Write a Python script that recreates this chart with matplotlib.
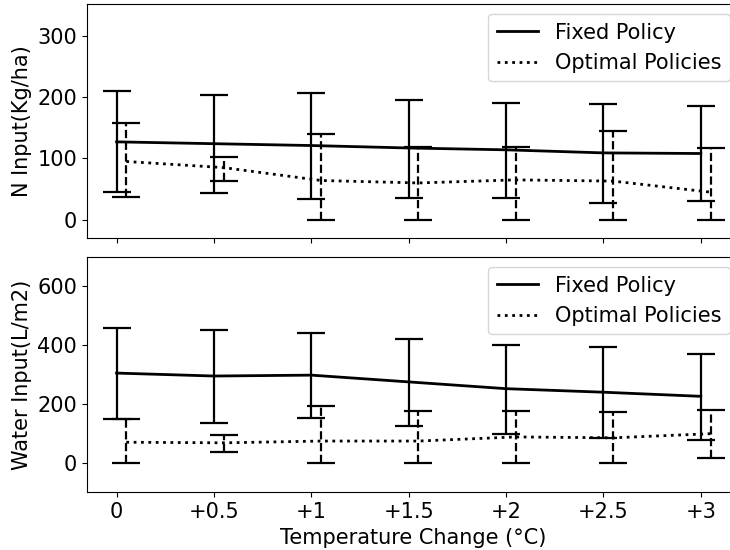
import matplotlib.pyplot as plt
import numpy as np

temp_labels = ["0", "+0.5", "+1", "+1.5", "+2", "+2.5", "+3"]

# N input (Kg/ha)
n_fixed_mean = [127, 124, 121, 117, 114, 109, 108]
n_fixed_low = [45, 44, 34, 35, 35, 28, 30]
n_fixed_high = [210, 204, 207, 196, 191, 189, 186]
n_opt_mean = [95, 85, 64, 60, 65, 63, 45]
n_opt_low = [37, 63, 0, 0, 0, 0, 0]
n_opt_high = [157, 103, 139, 118, 118, 145, 117]

# Water input (L/m2)
w_fixed_mean = [305, 295, 298, 275, 252, 240, 226]
w_fixed_low = [150, 137, 153, 125, 99, 85, 76]
w_fixed_high = [457, 451, 442, 422, 402, 393, 371]
w_opt_mean = [70, 68, 74, 74, 88, 85, 99]
w_opt_low = [0, 38, 0, 0, 0, 0, 17]
w_opt_high = [150, 96, 193, 176, 175, 172, 180]


def draw(ax, mean, low, high, x, style, bar_style):
    mean = np.array(mean)
    err = [mean - np.array(low), np.array(high) - mean]
    line, caps, bars = ax.errorbar(x, mean, yerr=err, color="black", linestyle=style,
                                   linewidth=2, elinewidth=1.6, capsize=10, capthick=1.6)
    bars[0].set_linestyle(bar_style)


plt.rcParams['font.size'] = 15
fig = plt.figure(figsize=(7.3, 5.5), dpi=100)
# the original is cropped on the right, so the axes run past the edge
ax1 = fig.add_axes([0.119, 0.567, 0.895, 0.426])
ax2 = fig.add_axes([0.119, 0.105, 0.895, 0.428], sharex=ax1)

x = np.arange(len(temp_labels))
for ax, fm, fl, fh, om, ol, oh in [
        (ax1, n_fixed_mean, n_fixed_low, n_fixed_high, n_opt_mean, n_opt_low, n_opt_high),
        (ax2, w_fixed_mean, w_fixed_low, w_fixed_high, w_opt_mean, w_opt_low, w_opt_high)]:
    draw(ax, fm, fl, fh, x, "-", "-")
    draw(ax, om, ol, oh, x + 0.1, ":", "--")
    ax.legend([plt.Line2D([], [], color="black", lw=2, ls="-"),
               plt.Line2D([], [], color="black", lw=2, ls=":")],
              ["Fixed Policy", "Optimal Policies"], loc="upper right")

ax1.set_ylim(-30, 352)
ax1.set_yticks([0, 100, 200, 300])
ax1.set_ylabel("N Input(Kg/ha)")
ax1.tick_params(labelbottom=False)

ax2.set_ylim(-100, 700)
ax2.set_yticks([0, 200, 400, 600])
ax2.set_ylabel("Water Input(L/m2)")
ax2.set_xlim(-0.305, 6.405)
ax2.set_xticks(x)
ax2.set_xticklabels(temp_labels)
ax2.set_xlabel("Temperature Change (°C)")

fig.align_ylabels([ax1, ax2])
plt.savefig("out.png")
plt.close()
